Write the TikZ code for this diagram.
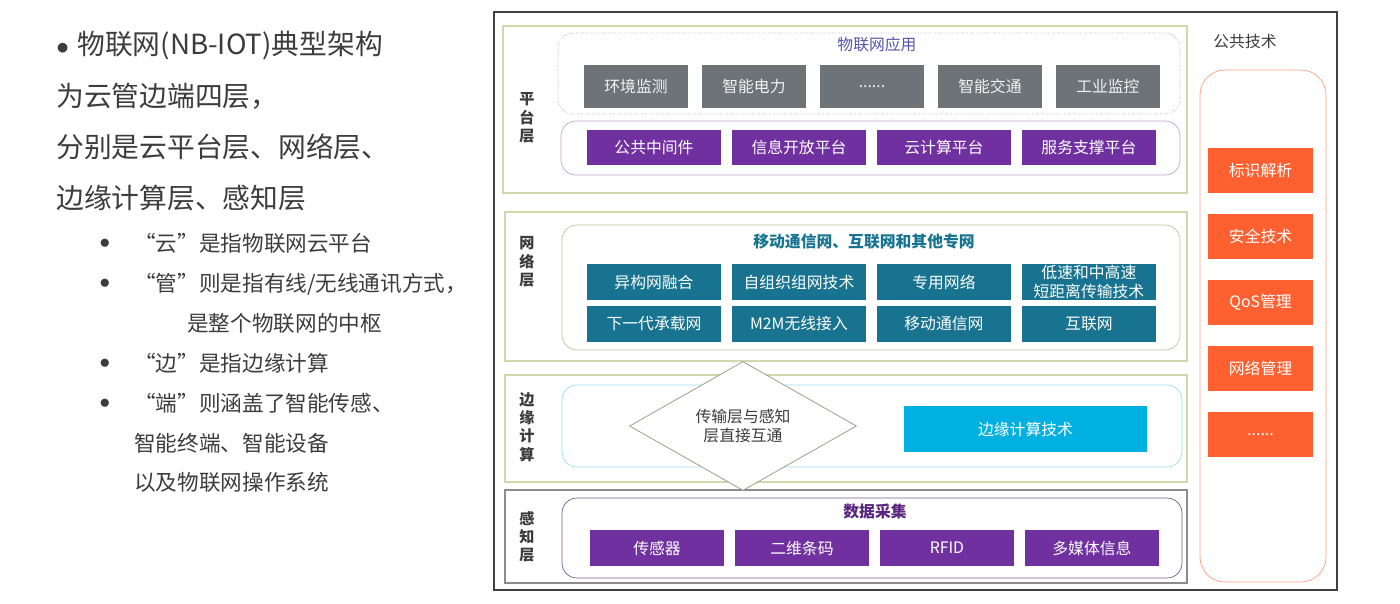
\documentclass[tikz,border=0pt]{standalone}
\usepackage{fontspec}
\setmainfont{Noto Sans CJK SC}
\usetikzlibrary{shapes.geometric}
\definecolor{appgray}{HTML}{6E7378}
\definecolor{platpurple}{HTML}{7030A0}
\definecolor{netteal}{HTML}{17738F}
\definecolor{edgecyan}{HTML}{00B0E0}
\definecolor{pubred}{HTML}{FF6030}
\definecolor{layerolive}{HTML}{D2D8AE}
\definecolor{txtgray}{HTML}{3C3C3C}

\begin{document}
\begin{tikzpicture}[x=0.02cm, y=-0.02cm, node distance=2.9cm,
  layer/.style={draw=layerolive, line width=0.8pt},
  lab/.style={font=\fontsize{8.6}{10.4}\selectfont\bfseries, align=center, text=txtgray},
  title/.style={font=\fontsize{9}{11}\selectfont},
  dot/.style={text=txtgray, inner sep=0, font=\fontsize{12}{12}\selectfont},
  appbox/.style={fill=appgray, text=white!90!gray, minimum width=2.08cm, minimum height=0.86cm, inner sep=0, font=\fontsize{9}{11}\selectfont},
  midbox/.style={fill=platpurple, text=white, minimum width=2.68cm, minimum height=0.70cm, inner sep=0, font=\fontsize{9}{11}\selectfont},
  netbox/.style={fill=netteal, text=white, minimum width=2.68cm, minimum height=0.72cm, inner sep=0, align=center, font=\fontsize{9}{10.3}\selectfont},
  pubbox/.style={fill=pubred, text=white, minimum width=2.1cm, minimum height=0.9cm, inner sep=0, font=\fontsize{9}{11}\selectfont}]
  \useasboundingbox (0,0) rectangle (1400,603);
  \node[anchor=north west, align=left, inner sep=0, text=txtgray, font=\fontsize{15.8}{29.2}\selectfont] (intro) at (56,31)
    {\makebox[0.42cm][l]{$\bullet$}物联网(NB-IOT)典型架构\\为云管边端四层，\\分别是云平台层、网络层、\\边缘计算层、感知层};
  \node[anchor=north west, align=left, inner sep=0, text=txtgray, font=\fontsize{12.3}{22.7}\selectfont] (points) at (134,233)
    {“云”是指物联网云平台\\“管”则是指有线/无线通讯方式，\\\hspace*{1.06cm}是整个物联网的中枢\\“边”是指边缘计算\\“端”则涵盖了智能传感、\\智能终端、智能设备\\以及物联网操作系统};
  \node[dot] (b1) at (105,244) {$\bullet$};
  \node[dot] (b2) at (105,284) {$\bullet$};
  \node[dot] (b3) at (105,364) {$\bullet$};
  \node[dot] (b4) at (105,404) {$\bullet$};

  \draw[draw=black!75, line width=1pt] (494,12) rectangle (1337,590);
  \draw[layer] (503,26) rectangle (1187,193);
  \draw[layer] (505,212) rectangle (1187,361);
  \draw[layer] (505,375) rectangle (1187,482);
  \draw[draw=black!45, line width=0.8pt] (505,490) rectangle (1187,583);
  \draw[draw=gray!70, densely dotted, rounded corners=0.3cm] (558,33) rectangle (1180,114);
  \draw[draw=platpurple!45, rounded corners=0.3cm] (561,121) rectangle (1180,175);
  \draw[draw=layerolive!90!black, rounded corners=0.3cm] (562,225) rectangle (1180,350);
  \draw[draw=edgecyan!40, rounded corners=0.3cm] (562,385) rectangle (1182,467);
  \draw[draw=platpurple!50!gray, rounded corners=0.3cm] (562,498) rectangle (1182,578);
  \draw[draw=pubred!60, rounded corners=0.5cm] (1200,70) rectangle (1326,582);

  \node[lab] (plat) at (527,118) {平\\台\\层};
  \node[lab] (net) at (527,262) {网\\络\\层};
  \node[lab] (edge) at (527,427) {边\\缘\\计\\算};
  \node[lab] (sense) at (527,537) {感\\知\\层};

  \node[title, text=blue!35!gray] (apps) at (877,44) {物联网应用};
  \node[appbox] (env) at (636,86.5) {环境监测};
  \node[appbox, right of=env, node distance=2.36cm] (power) {智能电力};
  \node[appbox, right of=power, node distance=2.36cm] (more) {......};
  \node[appbox, right of=more, node distance=2.36cm] (traffic) {智能交通};
  \node[appbox, right of=traffic, node distance=2.36cm] (indus) {工业监控};

  \node[midbox] (mw) at (654,147.5) {公共中间件};
  \node[midbox, right of=mw] (open) {信息开放平台};
  \node[midbox, right of=open] (cloud) {云计算平台};
  \node[midbox, right of=cloud] (serv) {服务支撑平台};

  \node[title, font=\fontsize{9}{11}\selectfont\bfseries, text=netteal] (nets) at (864,242) {移动通信网、互联网和其他专网};
  \node[netbox] (hetero) at (654,282) {异构网融合};
  \node[netbox, right of=hetero] (adhoc) {自组织组网技术};
  \node[netbox, right of=adhoc] (private) {专用网络};
  \node[netbox, right of=private] (short) {低速和中高速\\短距离传输技术};
  \node[netbox] (nextgen) at (654,323.5) {下一代承载网};
  \node[netbox, right of=nextgen] (mtom) {M2M无线接入};
  \node[netbox, right of=mtom] (mobile) {移动通信网};
  \node[netbox, right of=mobile] (inet) {互联网};

  \node[diamond, draw=layerolive!70!black, fill=white, minimum width=4.54cm, minimum height=2.52cm, inner sep=0,
    align=center, text=txtgray, font=\fontsize{9}{11}\selectfont] (direct) at (743,426) {传输层与感知\\层直接互通};
  \node[fill=edgecyan, text=white, minimum width=4.86cm, minimum height=0.92cm, inner sep=0, font=\fontsize{9}{11}\selectfont] (edgetech) at (1025.5,429) {边缘计算技术};

  \node[title, font=\fontsize{9}{11}\selectfont\bfseries, text=platpurple!80!black] (collect) at (875,511) {数据采集};
  \node[midbox, minimum height=0.72cm] (sensor) at (657,548) {传感器};
  \node[midbox, minimum height=0.72cm, right of=sensor] (qrcode) {二维条码};
  \node[midbox, minimum height=0.72cm, right of=qrcode] (rfid) {RFID};
  \node[midbox, minimum height=0.72cm, right of=rfid] (media) {多媒体信息};

  \node[title, text=txtgray] (pub) at (1245,41) {公共技术};
  \node[pubbox] (ident) at (1260.5,170.5) {标识解析};
  \node[pubbox, below of=ident, node distance=1.32cm] (secure) {安全技术};
  \node[pubbox, below of=secure, node distance=1.32cm] (qos) {QoS管理};
  \node[pubbox, below of=qos, node distance=1.32cm] (netmgmt) {网络管理};
  \node[pubbox, below of=netmgmt, node distance=1.32cm] (etc) {......};
\end{tikzpicture}
\end{document}
